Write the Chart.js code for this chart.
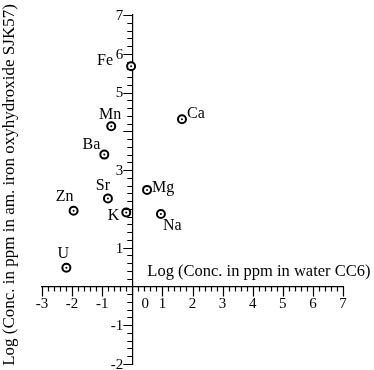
<!DOCTYPE html>
<html>
<head>
<meta charset="utf-8">
<script src="https://cdn.jsdelivr.net/npm/chart.js@4/dist/chart.umd.min.js"></script>
<style>
    html, body { margin: 0; padding: 0; background: #fff; }
    #wrap { width: 374px; height: 370px; }
</style>
</head>
<body>
<div id="wrap"><canvas id="chart"></canvas></div>
<script>
// element names and log concentrations (water CC6 vs. iron oxyhydroxide SJK57)
const elements = ['Fe', 'Mn', 'Ba', 'Ca', 'Mg', 'Sr', 'Zn', 'K', 'Na', 'U'];
const logWater = [-0.04, -0.70, -0.93, 1.65, 0.49, -0.81, -1.95, -0.20, 0.95, -2.19];
const logSolid = [5.68, 4.13, 3.40, 4.31, 2.49, 2.27, 1.95, 1.91, 1.87, 0.48];

const xTickValues = [-3, -2, -1, 0, 1, 2, 3, 4, 5, 6, 7];
const xTickLabels = ['-3', '-2', '-1', '0', '1', '2', '3', '4', '5', '6', '7'];
const yTickValues = [-2, -1, 1, 3, 5, 6, 7];
const yTickLabels = ['-2', '-1', '1', '3', '5', '6', '7'];

const xTitle = 'Log (Conc. in ppm in water CC6)';
const yTitle = 'Log (Conc. in ppm in am. iron oxyhydroxide SJK57)';

const SERIF = '"Liberation Serif", "Times New Roman", serif';

// where each element name sits relative to its marker
const labelPlace = {
    Fe: { dx: -18, dy: -5, align: 'right' },
    Mn: { dx: -1, dy: -11, align: 'center' },
    Ba: { dx: -4, dy: -10, align: 'right' },
    Ca: { dx: 5, dy: -6, align: 'left' },
    Mg: { dx: 5, dy: -2, align: 'left' },
    Sr: { dx: -5, dy: -13, align: 'center' },
    Zn: { dx: -9, dy: -14, align: 'center' },
    K: { dx: -7, dy: 3, align: 'right' },
    Na: { dx: 2, dy: 12, align: 'left' },
    U: { dx: -3, dy: -14, align: 'center' },
};

const axisDecor = {
    id: 'axisDecor',
    afterDraw(chart) {
        const { ctx, scales: { x, y } } = chart;
        const x0 = x.getPixelForValue(0);
        const y0 = y.getPixelForValue(0);

        ctx.save();
        ctx.strokeStyle = '#000';
        ctx.lineWidth = 1.2;
        ctx.beginPath();
        // x axis: minor ticks every 0.2, hanging below the line
        for (let i = 0; i <= 50; i++) {
            const px = Math.round(x.getPixelForValue(-3 + i * 0.2)) + 0.5;
            const len = i % 5 === 0 ? 10 : 5;
            ctx.moveTo(px, y0);
            ctx.lineTo(px, y0 + len);
        }
        // y axis: ticks to the left of the line
        for (let i = 0; i <= 45; i++) {
            const py = Math.round(y.getPixelForValue(-2 + i * 0.2)) + 0.5;
            const len = i % 5 === 0 ? 9 : 5;
            ctx.moveTo(x0, py);
            ctx.lineTo(x0 - len, py);
        }
        ctx.stroke();

        ctx.fillStyle = '#000';
        ctx.textBaseline = 'middle';
        ctx.font = '15px ' + SERIF;
        ctx.textAlign = 'center';
        xTickValues.forEach((v, i) => {
            const px = v === 0 ? x0 + 13 : x.getPixelForValue(v);
            ctx.fillText(xTickLabels[i], px, y0 + 18);
        });
        ctx.textAlign = 'right';
        yTickValues.forEach((v, i) => {
            ctx.fillText(yTickLabels[i], x0 - 9, y.getPixelForValue(v) + 1);
        });

        // axis titles
        ctx.font = '16.5px ' + SERIF;
        ctx.textAlign = 'left';
        ctx.fillText(xTitle, x0 + 15, y0 - 15);
        ctx.save();
        ctx.translate(10, 185);
        ctx.rotate(-Math.PI / 2);
        ctx.textAlign = 'center';
        ctx.font = '17px ' + SERIF;
        ctx.fillText(yTitle, 0, 0);
        ctx.restore();

        // centre dots and element names
        const meta = chart.getDatasetMeta(0);
        ctx.font = '16px ' + SERIF;
        meta.data.forEach((pt, i) => {
            ctx.beginPath();
            ctx.arc(pt.x, pt.y, 1, 0, Math.PI * 2);
            ctx.fill();
            const place = labelPlace[elements[i]];
            ctx.textAlign = place.align;
            ctx.fillText(elements[i], pt.x + place.dx, pt.y + place.dy);
        });
        ctx.restore();
    },
};

new Chart(document.getElementById('chart'), {
    type: 'scatter',
    data: {
        datasets: [{
            label: 'elements',
            data: logWater.map((v, i) => ({ x: v, y: logSolid[i] })),
            pointRadius: 4,
            pointHoverRadius: 4,
            pointBorderWidth: 2,
            pointBorderColor: '#000',
            pointBackgroundColor: '#fff',
        }],
    },
    options: {
        responsive: true,
        maintainAspectRatio: false,
        animation: false,
        events: [],
        layout: { padding: { left: 42, right: 31, top: 15, bottom: 3 } },
        plugins: { legend: { display: false }, tooltip: { enabled: false } },
        scales: {
            x: {
                type: 'linear',
                position: { y: 0 },
                min: -3,
                max: 7,
                grid: { display: false, drawTicks: false },
                border: { display: true, color: '#000', width: 1.2 },
                ticks: { display: false },
            },
            y: {
                type: 'linear',
                position: { x: 0 },
                min: -2,
                max: 7,
                grid: { display: false, drawTicks: false },
                border: { display: true, color: '#000', width: 1.2 },
                ticks: { display: false },
            },
        },
    },
    plugins: [axisDecor],
});
</script>
</body>
</html>
